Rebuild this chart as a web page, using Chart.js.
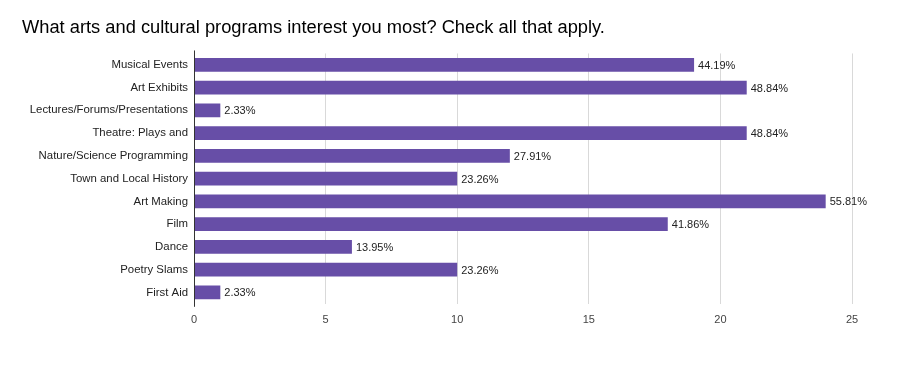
<!DOCTYPE html>
<html>
<head>
<meta charset="utf-8">
<script src="https://cdn.jsdelivr.net/npm/chart.js@4"></script>
<style>
  html, body { margin: 0; padding: 0; background: #fff; }
  #wrap { width: 900px; height: 366px; position: relative; }
</style>
</head>
<body>
<div id="wrap"><canvas id="myChart"></canvas></div>
<script>
const categories = [
  "Musical Events",
  "Art Exhibits",
  "Lectures/Forums/Presentations",
  "Theatre: Plays and",
  "Nature/Science Programming",
  "Town and Local History",
  "Art Making",
  "Film",
  "Dance",
  "Poetry Slams",
  "First Aid",
];
const counts = [19, 21, 1, 21, 12, 10, 24, 18, 6, 10, 1];
const percentLabels = [
  "44.19%", "48.84%", "2.33%", "48.84%", "27.91%", "23.26%",
  "55.81%", "41.86%", "13.95%", "23.26%", "2.33%",
];
const xTicks = [0, 5, 10, 15, 20, 25];

const ctx = document.getElementById("myChart").getContext("2d");

// draws the percent text to the right of each bar
const barLabels = {
  id: "barLabels",
  afterDatasetsDraw(chart) {
    const { ctx } = chart;
    const meta = chart.getDatasetMeta(0);
    ctx.save();
    ctx.font = "11px 'Liberation Sans', Arial, sans-serif";
    ctx.fillStyle = "#222";
    ctx.textBaseline = "middle";
    ctx.textAlign = "left";
    meta.data.forEach((bar, i) => {
      ctx.fillText(percentLabels[i], bar.x + 4, bar.y + 1);
    });
    ctx.restore();
  },
};

// dark zero line on the left
const zeroLine = {
  id: "zeroLine",
  afterDatasetsDraw(chart) {
    const { ctx, chartArea } = chart;
    const x = chart.scales.x.getPixelForValue(0);
    ctx.save();
    ctx.strokeStyle = "#333";
    ctx.lineWidth = 1;
    ctx.beginPath();
    ctx.moveTo(Math.round(x) + 0.5, chartArea.top - 3);
    ctx.lineTo(Math.round(x) + 0.5, chartArea.bottom + 3);
    ctx.stroke();
    ctx.restore();
  },
};

const myChart = new Chart(ctx, {
  type: "bar",
  data: {
    labels: categories,
    datasets: [
      {
        data: counts,
        backgroundColor: "#674ea7",
        borderWidth: 0,
        barPercentage: 0.61,
        categoryPercentage: 1,
      },
    ],
  },
  options: {
    indexAxis: "y",
    responsive: true,
    maintainAspectRatio: false,
    animation: false,
    layout: {
      padding: { left: 22, right: 48, top: 0, bottom: 29 },
    },
    plugins: {
      legend: { display: false },
      tooltip: { enabled: false },
      title: {
        display: true,
        text: "What arts and cultural programs interest you most? Check all that apply.",
        align: "start",
        color: "#000",
        font: { family: "'Liberation Sans', Arial, sans-serif", size: 18.3, weight: "normal" },
        padding: { top: 17, bottom: 14.5 },
      },
    },
    scales: {
      x: {
        min: 0,
        max: 25,
        afterBuildTicks: (scale) => {
          scale.ticks = xTicks.map((v) => ({ value: v }));
        },
        grid: {
          color: "#d9d9d9",
          drawTicks: false,
        },
        border: { display: false },
        ticks: {
          color: "#444",
          padding: 10,
          font: { family: "'Liberation Sans', Arial, sans-serif", size: 11 },
        },
      },
      y: {
        afterFit: (scale) => {
          scale.width = 172;
        },
        grid: { display: false, drawTicks: false },
        border: { display: false },
        ticks: {
          color: "#222",
          padding: 6,
          autoSkip: false,
          font: { family: "'Liberation Sans', Arial, sans-serif", size: 11.4 },
        },
      },
    },
  },
  plugins: [barLabels, zeroLine],
});
</script>
</body>
</html>
